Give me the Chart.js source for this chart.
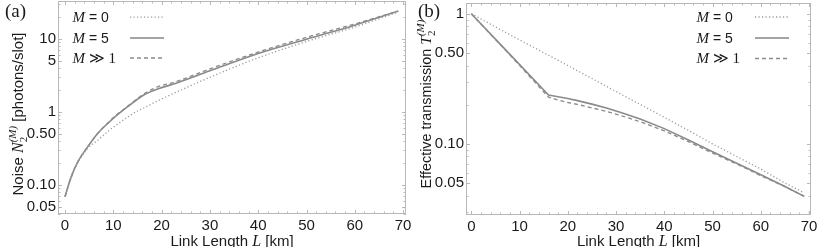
<!DOCTYPE html>
<html><head><meta charset="utf-8">
<script src="https://cdn.jsdelivr.net/npm/chart.js@4/dist/chart.umd.min.js"></script>
<style>
html,body{margin:0;padding:0;background:#fff;width:831px;height:247px;overflow:hidden}
.w{position:absolute;top:0;height:247px}
canvas{display:block}
</style></head><body>
<div class="w" style="left:0;width:415px"><canvas id="ca" width="415" height="247"></canvas></div>
<div class="w" style="left:415px;width:416px"><canvas id="cb" width="416" height="247"></canvas></div>
<script>
// ---------- data: panel (a) noise N2^(M) [photons/slot] ----------
const lengthsA   = [0, 1.3, 2.7, 4.8, 6.8, 8.9, 11, 13, 15, 16.3, 19.3, 23, 30, 40, 50, 60, 69];
const noiseM0    = [0.069, 0.128, 0.205, 0.32, 0.41, 0.54, 0.69, 0.85, 1.03, 1.13, 1.43, 1.86, 2.98, 5.5, 9.2, 14.5, 23.3];
const noiseM5    = [0.069, 0.13, 0.21, 0.34, 0.51, 0.70, 0.93, 1.18, 1.49, 1.70, 2.07, 2.47, 3.65, 6.3, 9.9, 15.4, 24];
const noiseMinf  = [0.069, 0.13, 0.21, 0.34, 0.51, 0.71, 0.95, 1.20, 1.52, 1.76, 2.22, 2.60, 3.88, 6.6, 10.5, 16.0, 24];
// ---------- data: panel (b) effective transmission T2^(M) ----------
const lengthsB   = [0, 8, 16, 18, 20, 22, 25, 28, 31, 35, 40, 45, 50, 55, 60, 65, 69];
const transM0    = [1, 0.69, 0.48, 0.438, 0.40, 0.365, 0.318, 0.277, 0.241, 0.201, 0.16, 0.127, 0.10, 0.08, 0.064, 0.05, 0.042];
const transM5    = [1, 0.487, 0.237, 0.230, 0.223, 0.215, 0.202, 0.189, 0.174, 0.155, 0.131, 0.107, 0.087, 0.071, 0.058, 0.047, 0.0395];
const transMinf  = [1, 0.483, 0.229, 0.217, 0.208, 0.201, 0.189, 0.178, 0.165, 0.148, 0.126, 0.104, 0.085, 0.07, 0.057, 0.047, 0.0395];
// ---------- ticks ----------
const xTickValues = [0, 10, 20, 30, 40, 50, 60, 70];
const yTickValuesA = [0.05, 0.1, 0.5, 1, 5, 10];
const yTickLabelsA = ['0.05', '0.10', '0.50', '1', '5', '10'];
const yTickValuesB = [0.05, 0.1, 0.5, 1];
const yTickLabelsB = ['0.05', '0.10', '0.50', '1'];
const seriesLabels = ['0', '5', '≫ 1'];

const SANS = '"Liberation Sans", Arial, sans-serif';
const SERIF = '"Liberation Serif", "DejaVu Serif", "Times New Roman", serif';
const TXT = '#1a1a1a';
const FRAME = '#b8b8b8';
const STYLES = [
  {color:'#9a9a9a', width:1.3, dash:[1.2, 2.3], legendWidth:1.3},
  {color:'#8a8a8a', width:1.6, dash:[], legendWidth:2.2, legendColor:'#a4a4a4'},
  {color:'#8a8a8a', width:1.3, dash:[4, 3], legendWidth:1.3}
];

function ds(xs, ys, i, smooth) {
  const s = STYLES[i];
  const d = {
    label: 'M = ' + seriesLabels[i],
    data: xs.map((x, k) => ({x: x, y: ys[k]})),
    borderColor: s.color, borderWidth: s.width, borderDash: s.dash,
    pointRadius: 0, fill: false, tension: 0
  };
  if (smooth) d.cubicInterpolationMode = 'monotone';
  return d;
}

function drawRich(ctx, parts, cx, cy, baseOff) {
  let total = 0;
  const widths = parts.map(p => {
    if (p.stack) {
      let m = 0;
      p.stack.forEach(q => { ctx.font = q.font; m = Math.max(m, ctx.measureText(q.t).width + (q.dx || 0)); });
      return m;
    }
    ctx.font = p.font; return ctx.measureText(p.t).width;
  });
  widths.forEach(w => total += w);
  ctx.save();
  ctx.translate(cx, cy);
  ctx.rotate(-Math.PI / 2);
  ctx.fillStyle = TXT;
  ctx.textBaseline = 'alphabetic';
  ctx.textAlign = 'left';
  let x = -total / 2;
  parts.forEach((p, i) => {
    if (p.stack) {
      p.stack.forEach(q => { ctx.font = q.font; ctx.fillText(q.t, x + (q.dx || 0), baseOff + q.dy); });
    } else {
      ctx.font = p.font; ctx.fillText(p.t, x, baseOff + (p.dy || 0));
    }
    x += widths[i];
  });
  ctx.restore();
}

function drawLine(ctx, parts, x, y) {
  ctx.save();
  ctx.fillStyle = TXT; ctx.textBaseline = 'alphabetic'; ctx.textAlign = 'left';
  parts.forEach(p => { ctx.font = p.font; ctx.fillText(p.t, x, y + (p.dy || 0)); x += ctx.measureText(p.t).width; });
  ctx.restore();
}

function textWidth(ctx, parts) {
  let w = 0; parts.forEach(p => { ctx.font = p.font; w += ctx.measureText(p.t).width; }); return w;
}

function deco(cfg) {
  return {
    id: 'deco',
    afterDraw(chart) {
      const ctx = chart.ctx, a = chart.chartArea;
      const xs = chart.scales.x, ys = chart.scales.y;
      ctx.save();
      ctx.strokeStyle = FRAME; ctx.lineWidth = 1;
      ctx.strokeRect(Math.round(a.left) + 0.5, Math.round(a.top) + 0.5, Math.round(a.right - a.left) - 1, Math.round(a.bottom - a.top) - 1);
      ctx.beginPath();
      for (let v = 0; v <= 70; v += 2) {
        const px = Math.round(xs.getPixelForValue(v)) + 0.5;
        const len = v % 10 === 0 ? 4 : 2.5;
        ctx.moveTo(px, a.bottom); ctx.lineTo(px, a.bottom - len);
        ctx.moveTo(px, a.top); ctx.lineTo(px, a.top + len);
      }
      for (let d = -2; d <= 1; d++) {
        for (let k = 1; k <= 9; k++) {
          const v = k * Math.pow(10, d);
          if (v < ys.min || v > ys.max) continue;
          const py = Math.round(ys.getPixelForValue(v)) + 0.5;
          const major = cfg.yTicks.some(t => Math.abs(t - v) / t < 1e-6);
          const len = major ? 4 : 2.5;
          ctx.moveTo(a.left, py); ctx.lineTo(a.left + len, py);
          ctx.moveTo(a.right, py); ctx.lineTo(a.right - len, py);
        }
      }
      ctx.stroke();
      ctx.restore();

      ctx.save();
      ctx.fillStyle = TXT; ctx.font = '19px ' + SERIF; ctx.textBaseline = 'alphabetic';
      ctx.fillText(cfg.panel, cfg.panelX, 17);
      ctx.restore();

      drawRich(ctx, cfg.yTitle, cfg.yTitleX, cfg.yTitleY, 5);

      const xt = [
        {t:'Link Length ', font:'15px ' + SANS},
        {t:'L', font:'italic 16px ' + SERIF},
        {t:' [km]', font:'15px ' + SANS}
      ];
      const cxm = (a.left + a.right) / 2;
      drawLine(ctx, xt, cxm - textWidth(ctx, xt) / 2, 245.5);

      cfg.legendRows.forEach((ry, i) => {
        const s = STYLES[i];
        const parts = [{t:'M', font:'italic 15px ' + SERIF}];
        if (i < 2) parts.push({t:' = ' + seriesLabels[i], font:'14px ' + SANS});
        else parts.push({t:' ≫ 1', font:'15px ' + SERIF});
        drawLine(ctx, parts, cfg.legendX, ry + 5);
        ctx.save();
        ctx.strokeStyle = s.legendColor || s.color; ctx.lineWidth = s.legendWidth;
        ctx.setLineDash(s.dash);
        ctx.beginPath(); ctx.moveTo(cfg.legendL1, ry + 0.5); ctx.lineTo(cfg.legendL2, ry + 0.5); ctx.stroke();
        ctx.restore();
      });
    }
  };
}

function makeChart(id, datasets, o) {
  return new Chart(document.getElementById(id), {
    type: 'line',
    data: {datasets: datasets},
    options: {
      responsive: false, animation: false, devicePixelRatio: 1,
      layout: {padding: o.padding},
      plugins: {legend: {display: false}, tooltip: {enabled: false}},
      scales: {
        x: {
          type: 'linear', min: o.xMin, max: o.xMax,
          afterBuildTicks: s => { s.ticks = xTickValues.map(v => ({value: v})); },
          afterFit: s => { s.height = o.xHeight; s.paddingLeft = 0; s.paddingRight = 0; },
          grid: {display: false, drawTicks: false}, border: {display: false},
          ticks: {autoSkip: false, maxRotation: 0, padding: 3, color: TXT,
                  font: {family: SANS, size: 15}, callback: v => String(v)}
        },
        y: {
          type: 'logarithmic', min: o.yMin, max: o.yMax,
          afterBuildTicks: s => { s.ticks = o.yTicks.map(v => ({value: v})); },
          afterFit: s => { s.width = o.yWidth; s.paddingTop = 0; s.paddingBottom = 0; },
          grid: {display: false, drawTicks: false}, border: {display: false},
          ticks: {autoSkip: false, padding: 2, color: TXT, font: {family: SANS, size: 15},
                  callback: v => { const k = o.yTicks.findIndex(t => Math.abs(t - v) / t < 1e-6); return k >= 0 ? o.yLabels[k] : ''; }}
        }
      }
    },
    plugins: [deco(o)]
  });
}

makeChart('ca', [ds(lengthsA, noiseM0, 0, true), ds(lengthsA, noiseM5, 1, true), ds(lengthsA, noiseMinf, 2, true)], {
  padding: {top: 1, right: 9, left: 0, bottom: 0},
  xMin: -1.45, xMax: 70.6, yMin: 0.040, yMax: 33,
  xHeight: 33, yWidth: 58,
  yTicks: yTickValuesA, yLabels: yTickLabelsA,
  panel: '(a)', panelX: 5,
  yTitle: [
    {t:'Noise ', font:'15px ' + SANS},
    {t:'N', font:'italic 16px ' + SERIF},
    {stack:[{t:'2', font:'11px ' + SERIF, dy:4, dx:0}, {t:'(M)', font:'italic 11px ' + SERIF, dy:-7, dx:0}]},
    {t:' [photons/slot]', font:'15px ' + SANS}
  ],
  yTitleX: 18, yTitleY: 114,
  legendRows: [16.7, 37.5, 57.5], legendX: 72.5, legendL1: 130, legendL2: 164
});

makeChart('cb', [ds(lengthsB, transM0, 0, false), ds(lengthsB, transM5, 1, false), ds(lengthsB, transMinf, 2, false)], {
  padding: {top: 3, right: 20, left: 0, bottom: 0},
  xMin: -1.1, xMax: 70.4, yMin: 0.0284, yMax: 1.21,
  xHeight: 32, yWidth: 51,
  yTicks: yTickValuesB, yLabels: yTickLabelsB,
  panel: '(b)', panelX: 3,
  yTitle: [
    {t:'Effective transmission ', font:'14.4px ' + SANS},
    {t:'T', font:'italic 15.5px ' + SERIF},
    {stack:[{t:'2', font:'11px ' + SERIF, dy:4, dx:0}, {t:'(M)', font:'italic 11px ' + SERIF, dy:-7, dx:0}]}
  ],
  yTitleX: 11, yTitleY: 104,
  legendRows: [16.5, 37.5, 58], legendX: 281.5, legendL1: 340, legendL2: 374
});
</script>
</body></html>
